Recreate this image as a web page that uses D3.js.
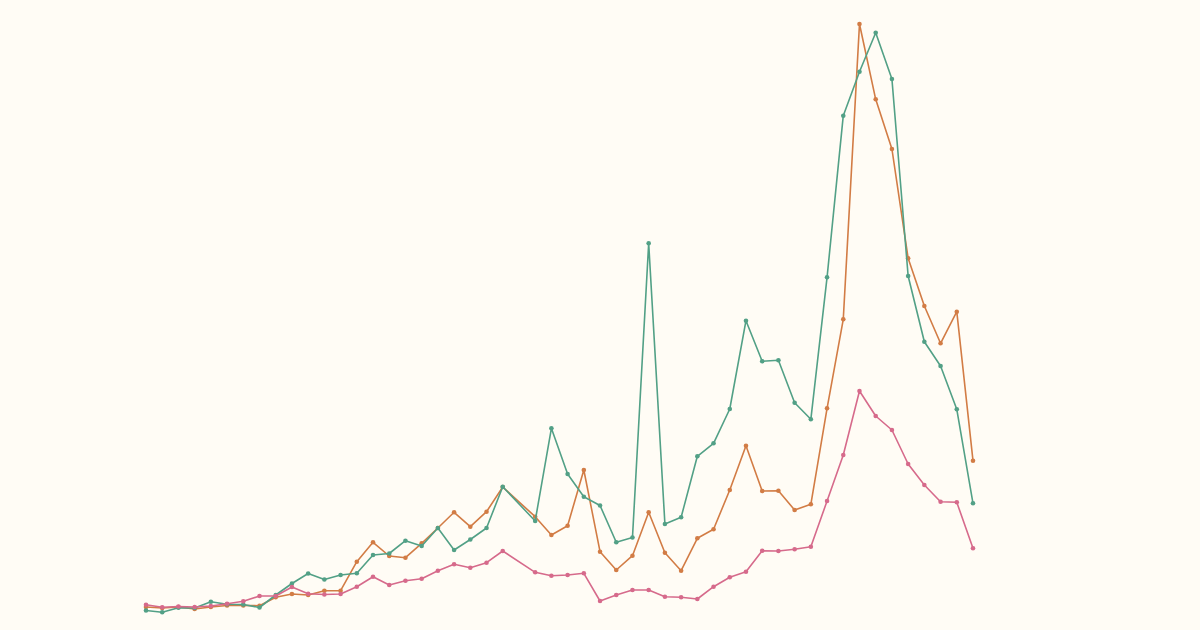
<!DOCTYPE html>
<html>
<head>
<meta charset="utf-8">
<script src="https://cdn.jsdelivr.net/npm/d3@7"></script>
<style>
  html, body { margin: 0; padding: 0; background: #fffcf5; }
  svg { display: block; }
</style>
</head>
<body>
<svg id="chart" width="1200" height="630"></svg>
<script>
const years = [1970,1971,1972,1973,1974,1975,1976,1977,1978,1979,1980,1981,1982,1983,1984,1985,1986,1987,1988,1989,1990,1991,1992,
               1994,1995,1996,1997,1998,1999,2000,2001,2002,2003,2004,2005,2006,2007,2008,2009,2010,2011,2012,2013,2014,2015,2016,2017,2018,2019,2020,2021];

const seriesGreen = [4.5,2.7,7.2,7,13.2,10.8,10.5,7.5,20,31.5,41.5,35.5,40,41.7,60,61.5,74.3,69,87,65,75.5,87,128.3,
                     94,186.7,141,118.3,109.5,72.7,77.5,371.7,91,97.7,158.7,171.7,206,294.3,253.7,254.7,212.3,195.7,337.7,499.3,543.3,582.3,536,339,273.3,249,205.7,111.7];

const seriesOrange = [8,7,8,6,8,9.5,9.5,9.3,17.7,21,20,24.3,24.3,53.3,72.7,59,57.3,71.7,87,102.7,88.3,103.3,128,
                      98.3,80,89.3,145,63.3,45,59.3,102.7,62.3,44.3,76.7,85.7,125,169.3,124,124.3,105,110.7,206.7,295.7,591,515.7,466,356.7,309,271.7,303.3,154.3];

const seriesPink = [10.3,7.8,8.5,8,9,11.2,13.7,19,19,28,21.2,20.5,21,28.3,38.3,30,34.3,36.3,44.3,50.7,47.3,52.3,64,
                    42.7,39.3,40,41.7,14,20,25,25,18.3,17.7,16,28.3,37.7,43.3,64.3,64,65.7,68.3,114,160,224,199,185,151,130,113.3,112.7,66.7];

const series = [
  { name: "green", values: seriesGreen, color: "#52a086" },
  { name: "orange", values: seriesOrange, color: "#d27c45" },
  { name: "pink", values: seriesPink, color: "#d66a8b" }
];

const svg = d3.select("#chart");
const x = d3.scaleLinear().domain([1970, 2021]).range([146, 973]);
const y = d3.scaleLinear().domain([0, 600]).range([615, 15]);

const line = d3.line()
  .x((d, i) => x(years[i]))
  .y(d => y(d));

// draw in order: pink bottom? use order orange, green, pink so green overlays orange
const drawOrder = [series[1], series[0], series[2]];
drawOrder.forEach(s => {
  const g = svg.append("g");
  g.append("path")
    .datum(s.values)
    .attr("fill", "none")
    .attr("stroke", s.color)
    .attr("stroke-width", 1.6)
    .attr("stroke-linejoin", "round")
    .attr("d", line);
  g.selectAll("circle")
    .data(s.values)
    .join("circle")
    .attr("cx", (d, i) => x(years[i]))
    .attr("cy", d => y(d))
    .attr("r", 2.3)
    .attr("fill", s.color);
});
</script>
</body>
</html>
